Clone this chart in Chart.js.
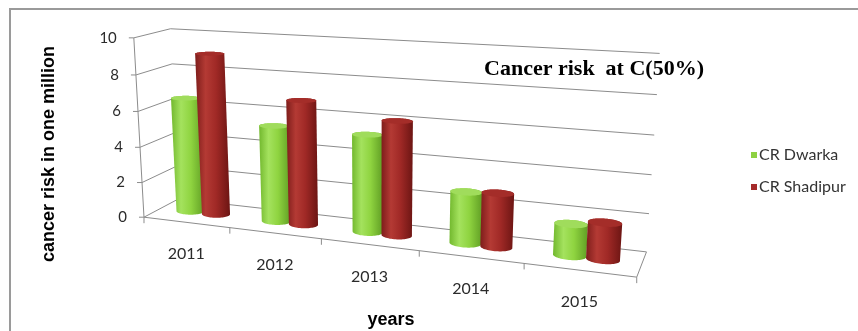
<!DOCTYPE html>
<html>
<head>
<meta charset="utf-8">
<title>Cancer risk at C(50%)</title>
<script src="https://cdn.jsdelivr.net/npm/chart.js@4.4.1/dist/chart.umd.min.js"></script>
<style>
  html, body { margin: 0; padding: 0; background: #fff; }
</style>
</head>
<body>
<canvas id="riskChart" width="858" height="331"></canvas>
<script>
// Data
const years = ['2011', '2012', '2013', '2014', '2015'];
const dwarka = [6.5, 5.35, 5.3, 2.75, 1.65];
const shadipur = [9.05, 6.85, 6.15, 2.85, 1.9];
const valueTicks = [0, 2, 4, 6, 8, 10];
const seriesNames = ['CR Dwarka', 'CR Shadipur'];

// Where the corners and edges of the 3D frame land on screen: [u, v, z, x, y]
// u runs along the categories, v up the value axis, z from front (0) to back (1)
const frameAnchors = [
    [0, 1, 0, 133, 38], [0, 0.8, 0, 135, 75], [0, 0.6, 0, 138, 111],
    [0, 0.4, 0, 140, 147], [0, 0.2, 0, 143, 183], [0, 0, 0, 145, 217],
    [0, 1, 1, 172, 28], [0, 0, 1, 177, 200],
    [1, 1, 1, 658, 53], [1, 0.8, 1, 657, 95], [1, 0.6, 1, 655, 137],
    [1, 0.4, 1, 653, 175], [1, 0.2, 1, 650, 213], [1, 0, 1, 645, 250],
    [1, 0, 0, 638, 277],
    [0.2, 0, 0, 230, 227], [0.4, 0, 0, 322, 239], [0.6, 0, 0, 418, 251], [0.8, 0, 0, 523, 264]
];

const cylinderStyles = [
    { stops: [[0, '#72b82e'], [0.3, '#a4e25e'], [0.6, '#8fd440'], [1, '#609e24']], top: '#a0dc5c' },
    { stops: [[0, '#7e1d1b'], [0.3, '#b43a34'], [0.6, '#a02926'], [1, '#6c1513']], top: '#a42d29' }
];

// Least-squares perspective camera (3x4, last entry fixed to 1) from the anchors
function fitCamera(anchors) {
    const n = 11;
    const M = Array.from({ length: n }, () => new Array(n + 1).fill(0));
    const addRow = (row, rhs) => {
        for (let i = 0; i < n; i++) {
            for (let j = 0; j < n; j++) M[i][j] += row[i] * row[j];
            M[i][n] += row[i] * rhs;
        }
    };
    anchors.forEach(([u, v, z, x, y]) => {
        const X = (x - 430) / 300, Y = (y - 160) / 300;
        addRow([u, v, z, 1, 0, 0, 0, 0, -X * u, -X * v, -X * z], X);
        addRow([0, 0, 0, 0, u, v, z, 1, -Y * u, -Y * v, -Y * z], Y);
    });
    for (let c = 0; c < n; c++) {
        let piv = c;
        for (let r = c + 1; r < n; r++) if (Math.abs(M[r][c]) > Math.abs(M[piv][c])) piv = r;
        [M[c], M[piv]] = [M[piv], M[c]];
        for (let r = 0; r < n; r++) {
            if (r === c) continue;
            const f = M[r][c] / M[c][c];
            for (let k = c; k <= n; k++) M[r][k] -= f * M[c][k];
        }
    }
    return M.map((row, i) => row[n] / row[i]);
}

function project(p, u, v, z) {
    const w = p[8] * u + p[9] * v + p[10] * z + 1;
    return {
        x: (p[0] * u + p[1] * v + p[2] * z + p[3]) / w * 300 + 430,
        y: (p[4] * u + p[5] * v + p[6] * z + p[7]) / w * 300 + 160
    };
}

function convexHull(pts) {
    const s = pts.slice().sort((a, b) => a.x - b.x || a.y - b.y);
    const cross = (o, a, b) => (a.x - o.x) * (b.y - o.y) - (a.y - o.y) * (b.x - o.x);
    const lower = [], upper = [];
    for (const p of s) {
        while (lower.length >= 2 && cross(lower[lower.length - 2], lower[lower.length - 1], p) <= 0) lower.pop();
        lower.push(p);
    }
    for (let i = s.length - 1; i >= 0; i--) {
        const p = s[i];
        while (upper.length >= 2 && cross(upper[upper.length - 2], upper[upper.length - 1], p) <= 0) upper.pop();
        upper.push(p);
    }
    return lower.slice(0, -1).concat(upper.slice(0, -1));
}

function polygon(ctx, pts) {
    ctx.beginPath();
    pts.forEach((p, i) => (i ? ctx.lineTo(p.x, p.y) : ctx.moveTo(p.x, p.y)));
    ctx.closePath();
}

function line(ctx, a, b) {
    ctx.beginPath();
    ctx.moveTo(a.x, a.y);
    ctx.lineTo(b.x, b.y);
    ctx.stroke();
}

const cam = fitCamera(frameAnchors);
const P = (u, v, z) => project(cam, u, v, z);

// Draws the frame, cylinders and texts in perspective from the flat bar layout
const scene3d = {
    id: 'scene3d',
    beforeDraw(chart) {
        const ctx = chart.ctx;
        ctx.save();
        ctx.fillStyle = '#ffffff';
        ctx.fillRect(0, 0, chart.width, chart.height);
        ctx.strokeStyle = '#9a9a9a';
        ctx.lineWidth = 2;
        ctx.strokeRect(10, 9, 880, 360);
        ctx.restore();
    },
    beforeDatasetsDraw(chart) {
        const { ctx, scales: { x: xs, y: ys } } = chart;
        const uOf = px => (px - xs.left) / (xs.right - xs.left);
        const vOf = val => (ys.bottom - ys.getPixelForValue(val)) / (ys.bottom - ys.top);
        const halfCat = (xs.getPixelForValue(1) - xs.getPixelForValue(0)) / 2;

        ctx.save();
        ctx.strokeStyle = '#8c8c8c';
        ctx.lineWidth = 1;

        // walls
        valueTicks.forEach(t => {
            const v = vOf(t);
            line(ctx, P(0, v, 1), P(1, v, 1));
            line(ctx, P(0, v, 0), P(0, v, 1));
            const a = P(0, v, 0);
            line(ctx, a, { x: a.x - 5, y: a.y });
        });
        // axes and floor edges
        line(ctx, P(0, 0, 0), P(0, 1, 0));
        line(ctx, P(0, 0, 0), P(1, 0, 0));
        line(ctx, P(1, 0, 0), P(1, 0, 1));
        for (let i = 0; i <= years.length; i++) {
            const px = i < years.length ? xs.getPixelForValue(i) - halfCat : xs.getPixelForValue(i - 1) + halfCat;
            const a = P(uOf(px), 0, 0);
            line(ctx, a, { x: a.x, y: a.y + 6 });
        }

        // cylinders, far to near
        const z0 = 0.5, rz = 0.17;
        years.forEach((_, i) => {
            chart.data.datasets.forEach((ds, d) => {
                const bar = chart.getDatasetMeta(d).data[i];
                const uc = uOf(bar.x);
                const ru = bar.width / 2 / (xs.right - xs.left);
                const vTop = vOf(ds.data[i]);
                const bottom = [], top = [];
                for (let k = 0; k < 64; k++) {
                    const a = k / 64 * Math.PI * 2;
                    const u = uc + ru * Math.cos(a), z = z0 + rz * Math.sin(a);
                    bottom.push(P(u, 0, z));
                    top.push(P(u, vTop, z));
                }
                const hull = convexHull(bottom.concat(top));
                const xsPts = hull.map(p => p.x);
                const minX = Math.min(...xsPts), maxX = Math.max(...xsPts);
                const st = cylinderStyles[d];
                const grad = ctx.createLinearGradient(minX, 0, maxX, 0);
                st.stops.forEach(([o, c]) => grad.addColorStop(o, c));
                polygon(ctx, hull);
                ctx.fillStyle = grad;
                ctx.fill();
                polygon(ctx, top);
                ctx.fillStyle = st.top;
                ctx.fill();
            });
        });

        // value tick labels
        ctx.fillStyle = '#2b2b2b';
        ctx.font = '15px Lato';
        ctx.textAlign = 'right';
        ctx.textBaseline = 'middle';
        valueTicks.forEach(t => {
            const a = P(0, vOf(t), 0);
            ctx.fillText(String(t), a.x - 17, a.y);
        });
        // category labels
        ctx.font = '16px Lato';
        ctx.textAlign = 'center';
        years.forEach((yr, i) => {
            const a = P(uOf(xs.getPixelForValue(i)), 0, 0);
            ctx.fillText(yr, a.x, a.y + 32);
        });

        // axis titles
        ctx.fillStyle = '#000';
        ctx.font = 'bold 18px "Liberation Sans"';
        ctx.textBaseline = 'alphabetic';
        ctx.fillText('years', 391, 325);
        ctx.save();
        ctx.translate(54, 154);
        ctx.rotate(-Math.PI / 2);
        ctx.fillText('cancer risk in one million', 0, 0);
        ctx.restore();

        // chart title
        ctx.font = 'bold 22px "Liberation Serif"';
        ctx.fillText('Cancer risk  at C(50%)', 594, 75);

        // legend
        ctx.font = '16px Lato';
        ctx.textAlign = 'left';
        ctx.textBaseline = 'middle';
        seriesNames.forEach((name, d) => {
            const y = 155 + d * 32;
            ctx.fillStyle = chart.data.datasets[d].backgroundColor;
            ctx.fillRect(751, y - 3, 6, 6);
            ctx.fillStyle = '#333333';
            ctx.fillText(name, 759, y);
        });

        ctx.restore();
        return false;
    }
};

new Chart(document.getElementById('riskChart'), {
    type: 'bar',
    data: {
        labels: years,
        datasets: [
            { label: seriesNames[0], data: dwarka, backgroundColor: '#8ed142' },
            { label: seriesNames[1], data: shadipur, backgroundColor: '#a52a2a' }
        ]
    },
    options: {
        responsive: false,
        animation: false,
        categoryPercentage: 0.61,
        barPercentage: 1,
        layout: { padding: 0 },
        plugins: { legend: { display: false }, tooltip: { enabled: false } },
        scales: {
            x: { display: false },
            y: { display: false, min: 0, max: 10 }
        }
    },
    plugins: [scene3d]
});
</script>
</body>
</html>
